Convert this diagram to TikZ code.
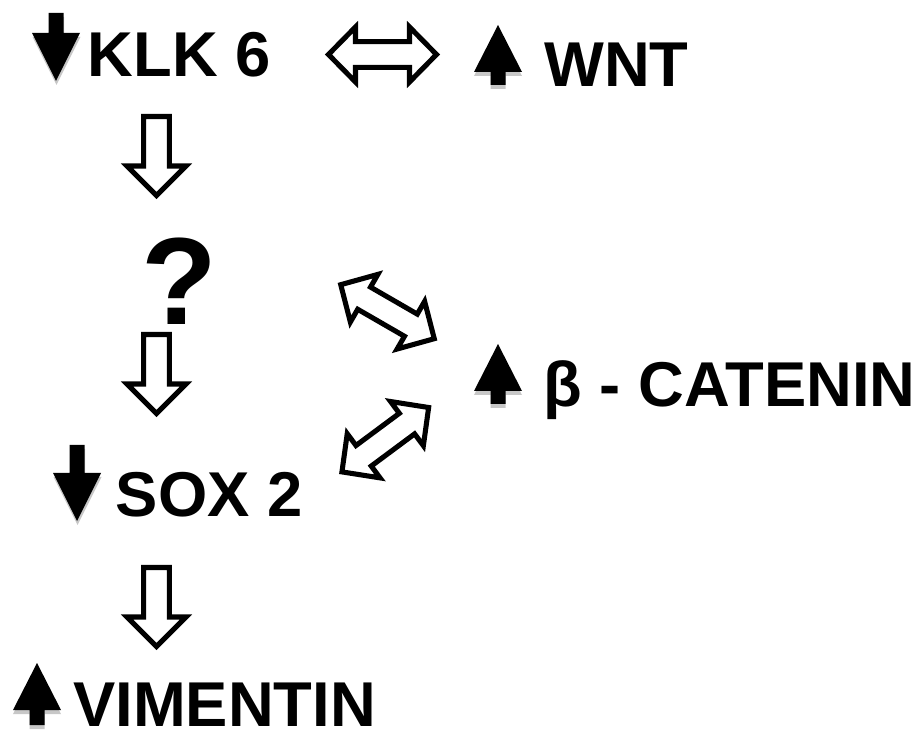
\documentclass[tikz,border=0pt]{standalone}
\usepackage{fontspec}
\setmainfont{Liberation Sans}
\begin{document}
\begin{tikzpicture}[x=0.75pt,y=-0.75pt,
  hollow/.style={draw=black,fill=white,line width=3.8pt,line join=miter},
  blk/.style={fill=black},
  shade/.style={fill=black!22},
  lbl/.style={inner sep=0pt,anchor=base west,font=\fontsize{47.5}{50}\bfseries},
  qmark/.style={inner sep=0pt,anchor=base,font=\fontsize{93}{96}\bfseries},
  pics/hdown/.style={code={\draw[hollow] (-12.8,0) -- (12.8,0) -- (12.8,49.5) -- (29.5,49.5) -- (0,79) -- (-29.5,49.5) -- (-12.8,49.5) -- cycle;}},
  pics/dbl/.style={code={\draw[hollow] (-54,0) -- (-27,-27.5) -- (-27,-12.8) -- (27,-12.8) -- (27,-27.5) -- (54,0) -- (27,27.5) -- (27,12.8) -- (-27,12.8) -- (-27,27.5) -- cycle;}},
  pics/bdown/.style={code={
    \fill[shade,shift={(0.5,4)}] (-7.5,-#1) -- (7.5,-#1) -- (7.5,0) -- (24,0) -- (0,48) -- (-24,0) -- (-7.5,0) -- cycle;
    \fill[blk] (-7.5,-#1) -- (7.5,-#1) -- (7.5,0) -- (24,0) -- (0,48) -- (-24,0) -- (-7.5,0) -- cycle;}},
  pics/bup/.style={code={
    \fill[shade,shift={(0,4)}] (-7.5,#1) -- (7.5,#1) -- (7.5,0) -- (24,0) -- (0,-47) -- (-24,0) -- (-7.5,0) -- cycle;
    \fill[blk] (-7.5,#1) -- (7.5,#1) -- (7.5,0) -- (24,0) -- (0,-47) -- (-24,0) -- (-7.5,0) -- cycle;}},
]
\useasboundingbox (0,0) rectangle (922,734);
% labels
\node[lbl] (klk) at (87.5,77) {KLK 6};
\node[lbl] (wnt) at (544,87) {WNT};
\node[qmark] (qm) at (179,325) {?};
\node[lbl] (beta) at (543.5,407) {β - CATENIN};
\node[lbl] (sox) at (115.5,517) {SOX 2};
\node[lbl] (vim) at (73,726) {VIMENTIN};
% up / down indicators
\pic (klkarrow) at (56,33) {bdown=20};
\pic (soxarrow) at (77,473) {bdown=28};
\pic (wntarrow) at (498,72) {bup=13};
\pic (betaarrow) at (498,391) {bup=13};
\pic (vimarrow) at (37,710) {bup=15};
% hollow block arrows
\pic (a1) at (156.5,116.5) {hdown};
\pic (a2) at (156.5,334.5) {hdown};
\pic (a3) at (156.5,567.5) {hdown};
\pic (d1) at (382.5,54.5) {dbl};
\pic[rotate=-30] (d2) at (387.5,311.7) {dbl};
\pic[rotate=36.6] (d3) at (385.3,439.7) {dbl};
\end{tikzpicture}
\end{document}
